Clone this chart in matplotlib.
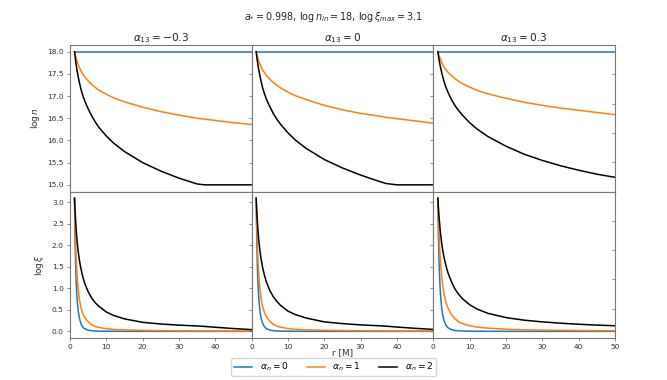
import numpy as np
import matplotlib
matplotlib.use("Agg")
import matplotlib.pyplot as plt

# ---------------- data ----------------
alpha13_labels = [r"$\alpha_{13} = -0.3$", r"$\alpha_{13} = 0$", r"$\alpha_{13} = 0.3$"]
series_labels = [r"$\alpha_n = 0$", r"$\alpha_n = 1$", r"$\alpha_n = 2$"]
series_colors = ["#1f77b4", "#ff7f0e", "black"]

r = [1.24, 1.4, 1.6, 1.8, 2.0, 2.3, 2.6, 3.0, 3.5, 4.0, 5.0, 6.0, 7.0, 8.0,
     10, 12, 15, 20, 25, 30, 35, 37, 40, 45, 50]

# log n  (top row)
logn_a0 = [18.0] * 25
logn_col1_a1 = [18.0, 17.95, 17.88, 17.82, 17.77, 17.70, 17.64, 17.57, 17.50, 17.44, 17.34,
                17.26, 17.19, 17.13, 17.04, 16.96, 16.87, 16.75, 16.65, 16.57, 16.50, 16.48,
                16.45, 16.40, 16.36]
logn_col1_a2 = [18.0, 17.89, 17.76, 17.65, 17.55, 17.42, 17.30, 17.16, 17.02, 16.90, 16.71,
                16.55, 16.41, 16.29, 16.10, 15.94, 15.75, 15.50, 15.31, 15.15, 15.02, 15.0,
                15.0, 15.0, 15.0]
logn_col2_a1 = [18.0, 17.95, 17.89, 17.83, 17.78, 17.72, 17.66, 17.59, 17.53, 17.47, 17.38,
                17.30, 17.24, 17.18, 17.09, 17.01, 16.92, 16.79, 16.69, 16.61, 16.55, 16.52,
                16.49, 16.44, 16.39]
logn_col2_a2 = [18.0, 17.89, 17.77, 17.67, 17.57, 17.44, 17.33, 17.19, 17.06, 16.94, 16.76,
                16.60, 16.47, 16.36, 16.17, 16.01, 15.82, 15.57, 15.38, 15.22, 15.08, 15.03,
                15.0, 15.0, 15.0]
logn_col3_a1 = [18.0, 17.96, 17.91, 17.86, 17.82, 17.76, 17.71, 17.65, 17.59, 17.54, 17.46,
                17.39, 17.33, 17.28, 17.20, 17.13, 17.05, 16.95, 16.86, 16.79, 16.73, 16.71,
                16.68, 16.63, 16.58]
logn_col3_a2 = [18.0, 17.91, 17.81, 17.72, 17.64, 17.53, 17.43, 17.31, 17.19, 17.09, 16.92,
                16.78, 16.67, 16.57, 16.40, 16.26, 16.09, 15.87, 15.69, 15.55, 15.43, 15.39,
                15.33, 15.24, 15.17]

# log xi  (bottom row)
logxi_col1_a0 = [3.10, 2.10, 1.40, 0.98, 0.70, 0.45, 0.30, 0.18, 0.10, 0.06, 0.03, 0.015,
                 0.008, 0.005, 0.003, 0.002, 0.001, 0.0, 0.0, 0.0, 0.0, 0.0, 0.0, 0.0, 0.0]
logxi_col1_a1 = [3.10, 2.45, 1.90, 1.52, 1.24, 0.94, 0.74, 0.56, 0.42, 0.33, 0.22, 0.15,
                 0.11, 0.09, 0.06, 0.045, 0.033, 0.022, 0.016, 0.012, 0.01, 0.009, 0.008,
                 0.007, 0.006]
logxi_col1_a2 = [3.10, 2.80, 2.50, 2.25, 2.05, 1.83, 1.65, 1.46, 1.28, 1.13, 0.92, 0.77,
                 0.66, 0.58, 0.45, 0.37, 0.29, 0.21, 0.17, 0.145, 0.125, 0.115, 0.095,
                 0.065, 0.04]
logxi_col2_a0 = [3.10, 2.12, 1.42, 1.00, 0.72, 0.46, 0.31, 0.19, 0.11, 0.065, 0.03, 0.015,
                 0.008, 0.005, 0.003, 0.002, 0.001, 0.0, 0.0, 0.0, 0.0, 0.0, 0.0, 0.0, 0.0]
logxi_col2_a1 = [3.10, 2.47, 1.93, 1.55, 1.27, 0.97, 0.76, 0.58, 0.44, 0.35, 0.23, 0.16,
                 0.12, 0.095, 0.065, 0.048, 0.035, 0.024, 0.018, 0.014, 0.011, 0.010, 0.009,
                 0.008, 0.007]
logxi_col2_a2 = [3.10, 2.81, 2.52, 2.28, 2.08, 1.86, 1.68, 1.49, 1.31, 1.16, 0.95, 0.80,
                 0.69, 0.60, 0.47, 0.39, 0.31, 0.22, 0.18, 0.15, 0.13, 0.12, 0.10, 0.07, 0.045]
logxi_col3_a0 = [3.10, 2.20, 1.55, 1.12, 0.82, 0.54, 0.37, 0.23, 0.14, 0.085, 0.04, 0.02,
                 0.012, 0.008, 0.004, 0.002, 0.001, 0.0, 0.0, 0.0, 0.0, 0.0, 0.0, 0.0, 0.0]
logxi_col3_a1 = [3.10, 2.65, 2.20, 1.85, 1.58, 1.28, 1.05, 0.85, 0.67, 0.55, 0.39, 0.29,
                 0.22, 0.18, 0.13, 0.10, 0.075, 0.05, 0.037, 0.029, 0.023, 0.021, 0.019,
                 0.016, 0.014]
logxi_col3_a2 = [3.10, 2.88, 2.64, 2.44, 2.26, 2.05, 1.88, 1.70, 1.52, 1.37, 1.15, 0.98,
                 0.86, 0.76, 0.62, 0.52, 0.42, 0.32, 0.26, 0.22, 0.19, 0.18, 0.165, 0.145, 0.13]

logn_data = [
    [logn_a0, logn_col1_a1, logn_col1_a2],
    [logn_a0, logn_col2_a1, logn_col2_a2],
    [logn_a0, logn_col3_a1, logn_col3_a2],
]
logxi_data = [
    [logxi_col1_a0, logxi_col1_a1, logxi_col1_a2],
    [logxi_col2_a0, logxi_col2_a1, logxi_col2_a2],
    [logxi_col3_a0, logxi_col3_a1, logxi_col3_a2],
]

suptitle = r"$a_{*} = 0.998$, $\log n_{in} = 18$, $\log\xi_{max} = 3.1$"

# ---------------- figure ----------------
plt.rcParams["font.family"] = ["DejaVu Sans"]
plt.rcParams["mathtext.fontset"] = "dejavusans"
TICK_FS = 5.4
LABEL_FS = 6.4
TITLE_FS = 7.6
SPINE_C = "#777777"
TEXT_C = "#333333"

fig = plt.figure(figsize=(6.67, 3.8), dpi=100)
L, R, T, B = 70 / 667, 615 / 667, 1 - 45 / 380, 1 - 338 / 380
gs = fig.add_gridspec(2, 3, left=L, right=R, top=T, bottom=B, wspace=0, hspace=0)

axes = [[None] * 3 for _ in range(2)]
for row in range(2):
    for col in range(3):
        kw = {}
        if col > 0:
            kw["sharey"] = axes[row][0]
        if row > 0:
            kw["sharex"] = axes[0][col]
        ax = fig.add_subplot(gs[row, col], **kw)
        axes[row][col] = ax

handles = []
for col in range(3):
    ax_t = axes[0][col]
    ax_b = axes[1][col]
    for k in range(3):
        h, = ax_t.plot(r, logn_data[col][k], color=series_colors[k], lw=1.1,
                       label=series_labels[k])
        ax_b.plot(r, logxi_data[col][k], color=series_colors[k], lw=1.1)
        if col == 0:
            handles.append(h)
    ax_t.set_title(alpha13_labels[col], fontsize=TITLE_FS, pad=2, color="#222222")

for row in range(2):
    for col in range(3):
        ax = axes[row][col]
        ax.set_xlim(0, 50)
        for s in ax.spines.values():
            s.set_color(SPINE_C)
            s.set_linewidth(0.8)
        ax.tick_params(labelsize=TICK_FS, length=2.5, width=0.6, colors=SPINE_C,
                       labelcolor=TEXT_C, pad=2)
        if col > 0:
            ax.tick_params(labelleft=False)
        if row == 0:
            ax.tick_params(labelbottom=False)
        if col < 2:
            ax.set_xticks([0, 10, 20, 30, 40])
        else:
            ax.set_xticks([0, 10, 20, 30, 40, 50])

axes[0][0].set_yticks([15.0, 15.5, 16.0, 16.5, 17.0, 17.5, 18.0])
axes[1][0].set_yticks([0.0, 0.5, 1.0, 1.5, 2.0, 2.5, 3.0])
axes[0][0].set_ylabel(r"$\log n$", fontsize=LABEL_FS, labelpad=4, color=TEXT_C)
axes[1][0].set_ylabel(r"$\log \xi$", fontsize=LABEL_FS, labelpad=4, color=TEXT_C)

# outer frame axes (common x label, right-hand ticks)
outer = fig.add_axes([L, B, R - L, T - B], frameon=False)
outer.set_ylim(0, 1)
outer.set_xlim(0, 1)
outer.set_yticks(np.arange(0, 1.01, 0.1))
outer.set_xticks([])
outer.yaxis.tick_right()
outer.tick_params(axis="y", labelright=False, length=2.5, width=0.6, colors=SPINE_C,
                  direction="in")
outer.set_xlabel("r [M]", fontsize=LABEL_FS, color=TEXT_C, labelpad=7)
outer.patch.set_visible(False)

fig.suptitle(suptitle, fontsize=6.9, y=1 - 17 / 380, va="center", color="#222222")
fig.legend(handles, series_labels, loc="lower center", ncol=3, fontsize=6.6,
           bbox_to_anchor=(0.5, 4 / 380), borderaxespad=0, frameon=True,
           handlelength=2.0, columnspacing=2.0, handletextpad=0.8, borderpad=0.3,
           fancybox=True)

fig.savefig("out.png", dpi=100)
